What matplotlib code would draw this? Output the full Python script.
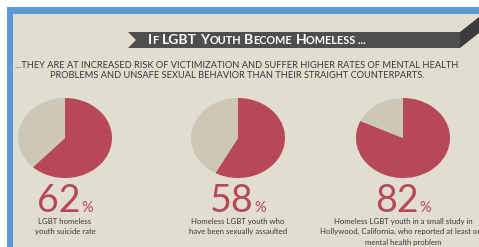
import matplotlib
matplotlib.use("Agg")
import matplotlib.pyplot as plt
from matplotlib.patches import Rectangle, Polygon

# data
percents = [62, 58, 82]
labels = [
    "LGBT homeless\nyouth suicide rate",
    "Homeless LGBT youth who\nhave been sexually assaulted",
    "Homeless LGBT youth in a small study in\nHollywood, California, who reported at least one\nmental health problem",
]
title_parts = [("I", 10), ("F", 7.8), (" ", 7.8), ("LGBT", 10), (" ", 7.8), ("Y", 10), ("OUTH", 7.8), (" ", 7.8),
               ("B", 10), ("ECOME", 7.8), (" ", 7.8), ("H", 10), ("OMELESS ...", 7.8)]
subtitle = ["...THEY ARE AT INCREASED RISK OF VICTIMIZATION AND SUFFER HIGHER RATES OF MENTAL HEALTH",
            "PROBLEMS AND UNSAFE SEXUAL BEHAVIOR THAN THEIR STRAIGHT COUNTERPARTS."]

RED = "#b6485a"
GREY = "#ccc7b7"
BEIGE = "#e2decf"
BLUE = "#5b9bd5"
TXT = "#383838"

W, H = 479, 247
fig = plt.figure(figsize=(W / 100, H / 100), dpi=100)
ax = fig.add_axes([0, 0, 1, 1])
ax.set_xlim(0, W)
ax.set_ylim(H, 0)
ax.axis("off")

# frame
ax.add_patch(Rectangle((7, 7), W, H, color=BLUE, lw=0))
ax.add_patch(Rectangle((13, 14), W, H, color=BEIGE, lw=0))

# ribbon
ax.add_patch(Polygon([(128, 32), (460, 32), (460, 48), (128, 48), (136, 40)], color="#4e4e4c", lw=0))
ax.add_patch(Polygon([(460, 32), (479, 17), (479, 33), (460, 48)], color="#3c3c3a", lw=0))

renderer = fig.canvas.get_renderer()

# title in small caps
pieces = []
for s, fs in title_parts:
    t = ax.text(0, 44.5, s, fontsize=fs, color="white", fontweight="bold",
                family="Lato", va="baseline", ha="left")
    pieces.append(t)
widths = [t.get_window_extent(renderer).width if t.get_text().strip() else 3.5 for t in pieces]
x = 257 - sum(widths) / 2
for t, w in zip(pieces, widths):
    t.set_x(x)
    x += w

# subtitle
ax.text(237, 65, subtitle[0], fontsize=6.7, color=TXT, family="Lato", ha="center", va="center")
ax.text(237, 75, subtitle[1], fontsize=6.7, color=TXT, family="Lato", ha="center", va="center")

centers = [65, 238, 403]
for cx, p, lab in zip(centers, percents, labels):
    pa = fig.add_axes([(cx - 47) / W, 1 - (138 + 40) / H, 94 / W, 80 / H])
    pa.pie([p, 100 - p], colors=[RED, GREY], startangle=90, counterclock=False, radius=1)
    pa.set_aspect("auto")
    pa.set_xlim(-1, 1)
    pa.set_ylim(-1, 1)

    num = ax.text(0, 212, str(p), fontsize=27, color=RED, family="Lato", va="baseline", ha="left")
    pct = ax.text(0, 212, "%", fontsize=10.5, color=RED, family="Lato", va="baseline", ha="left")
    w1 = num.get_window_extent(renderer).width
    w2 = pct.get_window_extent(renderer).width
    x0 = cx - (w1 + w2) / 2
    num.set_x(x0)
    pct.set_x(x0 + w1 + 0.5)

    ax.text(cx, 218, lab, fontsize=5.6, color=TXT, family="Lato", ha="center", va="top",
            linespacing=1.55)

fig.savefig("out.png", dpi=100, facecolor="white")
